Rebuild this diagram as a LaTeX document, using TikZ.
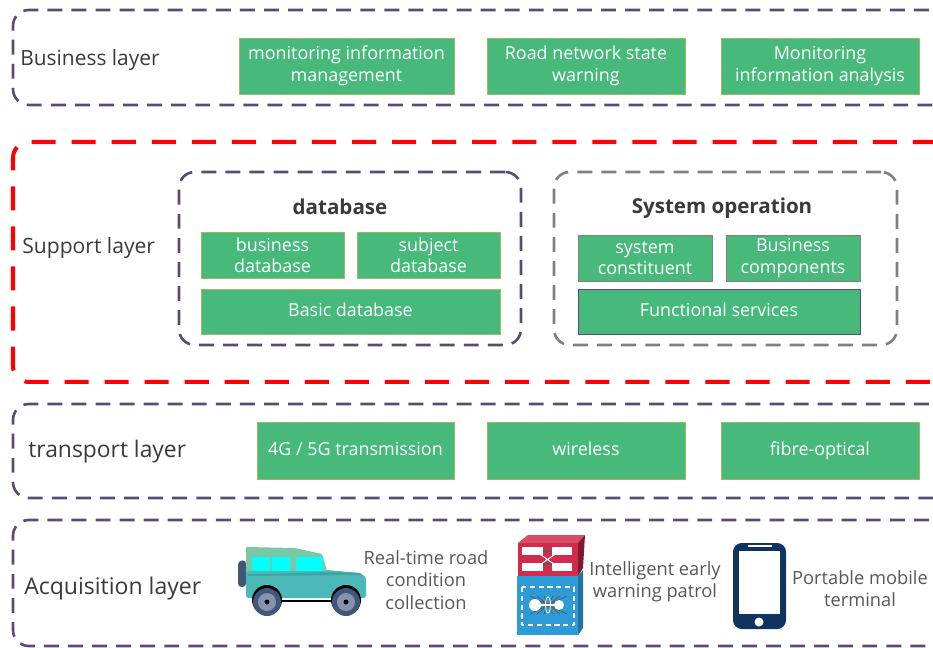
\documentclass[tikz,border=0pt]{standalone}
\usepackage{fontspec}
\setmainfont{Open Sans}
\definecolor{layerpurple}{HTML}{5A4A78}
\definecolor{boxgreen}{HTML}{46B97B}
\definecolor{boxedge}{HTML}{9DB85F}
\definecolor{labelgrey}{HTML}{3A3A3A}
\definecolor{carteal}{HTML}{4DB8B8}
\definecolor{carline}{HTML}{3CA5A8}
\definecolor{carroof}{HTML}{78C8A8}
\definecolor{carglass}{HTML}{00FFFF}
\definecolor{wheelblue}{HTML}{3F5878}
\definecolor{hubgrey}{HTML}{8792AE}
\definecolor{phoneblue}{HTML}{0F3460}
\definecolor{switchred}{HTML}{D22B4B}
\definecolor{switchblue}{HTML}{2E9BD6}
\tikzset{
    layerbox/.style={draw=layerpurple, line width=1.5pt, dash pattern=on 8.5pt off 5.2pt, rounded corners=9pt, anchor=north west, inner sep=0pt, outer sep=0pt},
    redbox/.style={layerbox, draw=red, line width=2.3pt, dash pattern=on 13.7pt off 9.1pt},
    greybox/.style={layerbox, draw=gray},
    greenbox/.style={draw=boxedge, fill=boxgreen, text=white, anchor=north west, align=center, inner sep=0pt, outer sep=0pt, font=\fontsize{10.2}{12.2}\selectfont, line width=0.5pt},
    onerow/.style={text height=7.5pt, text depth=1.5pt},
    layerlabel/.style={text=labelgrey, anchor=west, inner sep=0pt},
    iconlabel/.style={text=labelgrey!85, align=center, font=\fontsize{10.4}{12.6}\selectfont, inner sep=0pt},
    titlelabel/.style={text=labelgrey, font=\fontsize{11.7}{14}\selectfont\bfseries, inner sep=0pt},
}
\begin{document}
\begin{tikzpicture}[line cap=butt, line join=round, x=0.02cm, y=-0.02cm]
    \useasboundingbox (0, 0) rectangle (933, 647);
    \clip (0, 0) rectangle (933, 647);

    % Layers
    \node[layerbox, minimum width=19.6cm, minimum height=1.9cm] (business) at (13, 10) {};
    \node[redbox, minimum width=19.6cm, minimum height=4.8cm] (support) at (13, 142) {};
    \node[layerbox, minimum width=19.6cm, minimum height=1.88cm] (transport) at (13, 404) {};
    \node[layerbox, minimum width=19.6cm, minimum height=2.52cm] (acquisition) at (13, 520) {};

    \node[layerlabel, font=\fontsize{11.9}{14}\selectfont] (businesslabel) at (20, 60) {Business layer};
    \node[layerlabel, font=\fontsize{12}{14}\selectfont] (supportlabel) at (22, 248) {Support layer};
    \node[layerlabel, font=\fontsize{13}{15}\selectfont] (transportlabel) at (28, 452) {transport layer};
    \node[layerlabel, font=\fontsize{13.1}{15}\selectfont] (acquisitionlabel) at (24, 589) {Acquisition layer};

    % Business layer
    \node[greenbox, minimum width=4.3cm, minimum height=1.12cm] (monitoring) at (239, 38) {monitoring information\\management};
    \node[greenbox, minimum width=3.96cm, minimum height=1.12cm] (warning) at (487, 38) {Road network state\\warning};
    \node[greenbox, minimum width=3.96cm, minimum height=1.12cm] (analysis) at (721, 38) {Monitoring\\information analysis};

    % Support layer
    \node[layerbox, minimum width=6.84cm, minimum height=3.46cm] (database) at (179, 172) {};
    \node[titlelabel] (databasetitle) at (340, 207) {database};
    \node[greenbox, minimum width=2.86cm, minimum height=0.92cm] (businessdb) at (201, 232) {business\\database};
    \node[greenbox, minimum width=2.86cm, minimum height=0.92cm] (subjectdb) at (357, 232) {subject\\database};
    \node[greenbox, onerow, minimum width=5.98cm, minimum height=0.9cm] (basicdb) at (201, 289) {Basic database};

    \node[greybox, minimum width=6.86cm, minimum height=3.46cm] (system) at (554, 172) {};
    \node[titlelabel] (systemtitle) at (722, 208) {System operation};
    \node[greenbox, draw=gray, minimum width=2.68cm, minimum height=0.92cm] (constituent) at (578, 235) {system\\constituent};
    \node[greenbox, draw=gray, minimum width=2.68cm, minimum height=0.92cm] (components) at (726, 235) {Business\\components};
    \node[greenbox, onerow, draw=layerpurple, minimum width=5.64cm, minimum height=0.9cm] (functional) at (578, 289) {Functional services};

    % Transport layer
    \node[greenbox, onerow, minimum width=3.94cm, minimum height=1.14cm] (cellular) at (257, 422) {4G / 5G transmission};
    \node[greenbox, onerow, minimum width=3.96cm, minimum height=1.14cm] (wireless) at (487, 422) {wireless};
    \node[greenbox, onerow, minimum width=3.96cm, minimum height=1.14cm] (fibre) at (721, 422) {fibre-optical};

    % Acquisition layer
    \node[iconlabel] (roadlabel) at (426, 580) {Real-time road\\condition\\collection};
    \node[iconlabel] (patrollabel) at (655, 582) {Intelligent early\\warning patrol};
    \node[iconlabel] (mobilelabel) at (860, 589) {Portable mobile\\terminal};

    % Car
    \fill[wheelblue, rounded corners=2pt] (246, 560) -- (238, 561) -- (238, 587) -- (246, 587) -- cycle;
    \fill[carteal, rounded corners=1.5pt] (246, 570) -- (327, 570) -- (360, 573) -- (366, 577) -- (366, 598) -- (246, 598) -- cycle;
    \fill[carroof] (246, 547) -- (295, 548) -- (322, 554) -- (327, 571) -- (246, 571) -- cycle;
    \fill[carline] (248, 574.5) -- (328, 572) -- (360, 573) -- (362, 575) -- (248, 576) -- cycle;
    \fill[carglass] (252, 557) rectangle (270, 571);
    \fill[carglass] (272, 557) rectangle (290, 571);
    \fill[carglass] (296, 557) rectangle (323, 571);
    \draw[line width=1pt] (280, 601) -- (333, 601);
    \foreach \wx in {267, 346} {
        \fill[black] (\wx, 600) circle (15);
        \fill[wheelblue] (\wx, 602) circle (14);
        \fill[hubgrey] (\wx, 602) circle (9);
        \fill[black] (\wx, 602) circle (2.5);
    }

    % Switch
    \fill[switchblue] (517, 576) rectangle (578, 635);
    \fill[switchblue!75!black] (578, 576) -- (583, 570) -- (583, 628) -- (578, 635) -- cycle;
    \fill[switchred] (518, 543) rectangle (578, 576);
    \fill[switchred!85!white] (518, 543) -- (528, 535) -- (585, 535) -- (578, 543) -- cycle;
    \fill[switchred!60!black] (578, 543) -- (585, 535) -- (583, 568) -- (578, 576) -- cycle;
    \fill[white] (522, 547) rectangle (543, 555);
    \fill[white] (552, 547) rectangle (572, 555);
    \fill[white] (522, 563) rectangle (543, 571);
    \fill[white] (552, 563) rectangle (572, 571);
    \fill[gray!70!black] (543, 550) rectangle (552, 552);
    \fill[gray!70!black] (543, 563) rectangle (552, 565);
    \draw[white, line width=0.6pt] (537, 552) -- (558, 567) (537, 567) -- (558, 552);
    \draw[white, line width=0.6pt, densely dashed] (522, 587) rectangle (574, 625);
    \foreach \sx in {530, 537, 544, 553, 560, 567} {
        \draw[black!65, line width=0.4pt] (\sx, 596) -- (548, 605) -- (\sx, 614);
    }
    \fill[white] (535, 605) circle (6);
    \fill[white] (559, 605) circle (5);
    \draw[white, line width=1.4pt] (535, 605) -- (559, 605);
    \draw[white, line width=0.5pt] (548, 605) ellipse (2.5 and 8);

    % Phone
    \fill[phoneblue, rounded corners=5pt] (733, 543) rectangle (786, 629);
    \fill[white] (739, 551) rectangle (780, 614);
    \fill[white] (748, 545) rectangle (772, 547);
    \fill[white] (759, 622) circle (4.5);
\end{tikzpicture}
\end{document}
